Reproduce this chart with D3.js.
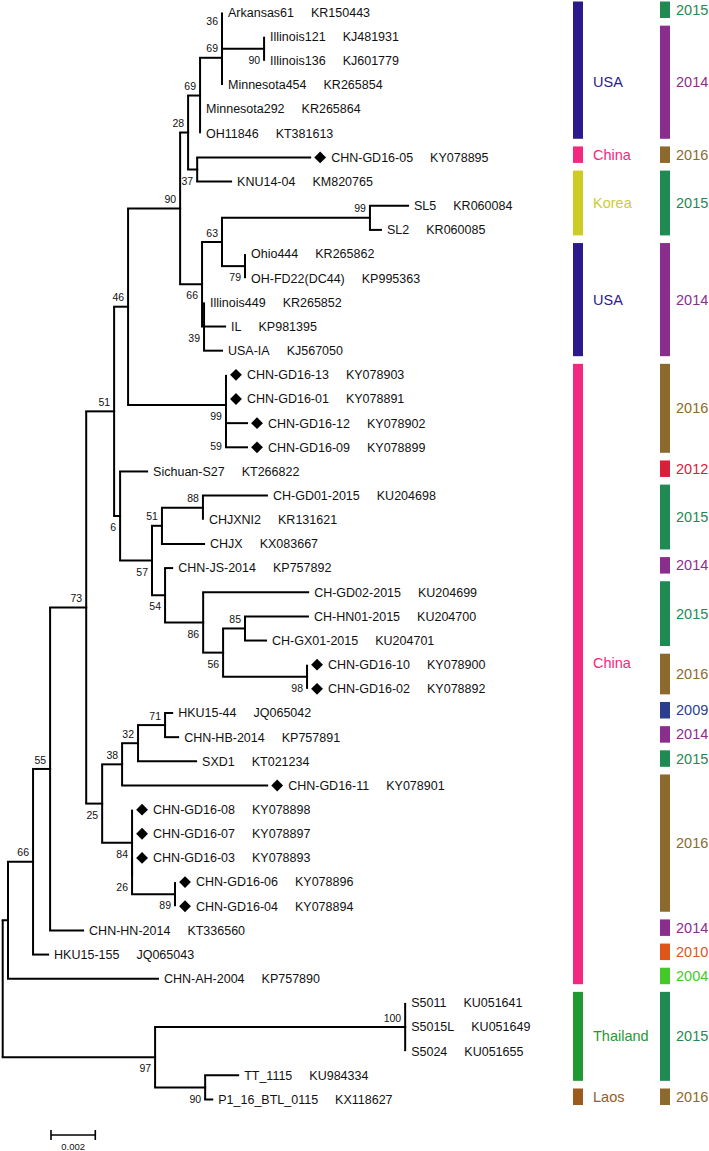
<!DOCTYPE html>
<html><head><meta charset="utf-8">
<script src="https://cdn.jsdelivr.net/npm/d3@7"></script>
<style>
body{margin:0;background:#fff}
svg{display:block}
text{font-family:Arial,"Liberation Sans",Helvetica,sans-serif}
</style>
</head><body><svg id="c" width="709" height="1151"></svg>
<script>
// [node, parent, branch length (subst./site), bootstrap]
const treeEdges = [
 ["root", "", 0, null],
 ["n8","root",0.00024,null],
 ["n66","n8",0.00113,66],
 ["n55","n66",0.00077,55],
 ["n73","n55",0.00163,73],
 ["n51","n73",0.00126,51],
 ["n46","n51",0.00063,46],
 ["n90","n46",0.00235,90],
 ["n28","n90",0.00036,28],
 ["n69b","n28",0.00054,69],
 ["n69a","n69b",0.00099,69],
 ["n36","n69a",0,36],
 ["Arkansas61","n36",0,null],
 ["n90a","n36",0.0019,90],
 ["Illinois121","n90a",0,null],
 ["Illinois136","n90a",0,null],
 ["Minnesota454","n69a",0,null],
 ["Minnesota292","n69b",0,null],
 ["OH11846","n69b",0,null],
 ["n37","n28",0.00041,37],
 ["CHN-GD16-05","n37",0.0051,null],
 ["KNU14-04","n37",0.00153,null],
 ["n66b","n90",0.00099,66],
 ["n63","n66b",0.0009,63],
 ["n99","n63",0.00668,99],
 ["SL5","n99",0.00172,null],
 ["SL2","n99",0.0005,null],
 ["n79","n63",0.00104,79],
 ["Ohio444","n79",0,null],
 ["OH-FD22(DC44)","n79",0,null],
 ["n39","n66b",0.00009,39],
 ["Illinois449","n39",0,null],
 ["IL","n39",0.00095,null],
 ["USA-IA","n39",0.00081,null],
 ["n99b","n46",0.00442,99],
 ["CHN-GD16-13","n99b",0,null],
 ["CHN-GD16-01","n99b",0,null],
 ["n59","n99b",0,59],
 ["CHN-GD16-12","n59",0.00095,null],
 ["CHN-GD16-09","n59",0.00095,null],
 ["n6","n51",0.00027,6],
 ["Sichuan-S27","n6",0.00122,null],
 ["n57","n6",0.00144,57],
 ["n51c","n57",0.00045,51],
 ["n88","n51c",0.00185,88],
 ["CH-GD01-2015","n88",0.00289,null],
 ["CHJXNI2","n88",0,null],
 ["CHJX","n51c",0.0019,null],
 ["n54","n57",0.00059,54],
 ["CHN-JS-2014","n54",0.00032,null],
 ["n86","n54",0.00172,86],
 ["CH-GD02-2015","n86",0.00474,null],
 ["n56","n86",0.0009,56],
 ["n85","n56",0.00099,85],
 ["CH-HN01-2015","n85",0.00284,null],
 ["CH-GX01-2015","n85",0.00095,null],
 ["n98","n56",0.00379,98],
 ["CHN-GD16-10","n98",0,null],
 ["CHN-GD16-02","n98",0,null],
 ["n25","n73",0.00072,25],
 ["n38","n25",0.0009,38],
 ["n32","n38",0.00072,32],
 ["n71","n32",0.00122,71],
 ["HKU15-44","n71",0.00032,null],
 ["CHN-HB-2014","n71",0.00059,null],
 ["SXD1","n32",0.00262,null],
 ["CHN-GD16-11","n38",0.00655,null],
 ["n84","n25",0.00135,84],
 ["CHN-GD16-08","n84",0,null],
 ["CHN-GD16-07","n84",0,null],
 ["n26","n84",0,26],
 ["CHN-GD16-03","n26",0,null],
 ["n89","n26",0.00194,89],
 ["CHN-GD16-06","n89",0,null],
 ["CHN-GD16-04","n89",0,null],
 ["CHN-HN-2014","n55",0.00149,null],
 ["HKU15-155","n66",0.00068,null],
 ["CHN-AH-2004","n8",0.00677,null],
 ["n97","root",0.00688,97],
 ["n100","n97",0.01129,100],
 ["S5011","n100",0,null],
 ["S5015L","n100",0,null],
 ["S5024","n100",0,null],
 ["n90c","n97",0.00226,90],
 ["TT_1115","n90c",0.00149,null],
 ["P1_16_BTL_0115","n90c",0.00032,null]
];

const accessions = {
 "Arkansas61":"KR150443","Illinois121":"KJ481931","Illinois136":"KJ601779",
 "Minnesota454":"KR265854","Minnesota292":"KR265864","OH11846":"KT381613",
 "CHN-GD16-05":"KY078895","KNU14-04":"KM820765","SL5":"KR060084","SL2":"KR060085",
 "Ohio444":"KR265862","OH-FD22(DC44)":"KP995363","Illinois449":"KR265852",
 "IL":"KP981395","USA-IA":"KJ567050","CHN-GD16-13":"KY078903","CHN-GD16-01":"KY078891",
 "CHN-GD16-12":"KY078902","CHN-GD16-09":"KY078899","Sichuan-S27":"KT266822",
 "CH-GD01-2015":"KU204698","CHJXNI2":"KR131621","CHJX":"KX083667",
 "CHN-JS-2014":"KP757892","CH-GD02-2015":"KU204699","CH-HN01-2015":"KU204700",
 "CH-GX01-2015":"KU204701","CHN-GD16-10":"KY078900","CHN-GD16-02":"KY078892",
 "HKU15-44":"JQ065042","CHN-HB-2014":"KP757891","SXD1":"KT021234",
 "CHN-GD16-11":"KY078901","CHN-GD16-08":"KY078898","CHN-GD16-07":"KY078897",
 "CHN-GD16-03":"KY078893","CHN-GD16-06":"KY078896","CHN-GD16-04":"KY078894",
 "CHN-HN-2014":"KT336560","HKU15-155":"JQ065043","CHN-AH-2004":"KP757890",
 "S5011":"KU051641","S5015L":"KU051649","S5024":"KU051655",
 "TT_1115":"KU984334","P1_16_BTL_0115":"KX118627"
};

const markedStrains = ["CHN-GD16-05","CHN-GD16-13","CHN-GD16-01","CHN-GD16-12","CHN-GD16-09",
 "CHN-GD16-10","CHN-GD16-02","CHN-GD16-11","CHN-GD16-08","CHN-GD16-07","CHN-GD16-03",
 "CHN-GD16-06","CHN-GD16-04"];

// [label, first leaf index, last leaf index]
const countryGroups = [["USA",0,5],["China",6,6],["Korea",7,9],["USA",10,14],["China",15,40],["Thailand",41,44],["Laos",45,45]];
const yearGroups = [["2015",0,0],["2014",1,5],["2016",6,6],["2015",7,9],["2014",10,14],["2016",15,18],
 ["2012",19,19],["2015",20,22],["2014",23,23],["2015",24,26],["2016",27,28],["2009",29,29],
 ["2014",30,30],["2015",31,31],["2016",32,37],["2014",38,38],["2010",39,39],["2004",40,40],
 ["2015",41,44],["2016",45,45]];

const scaleBarValue = 0.002;

const countryColors = {USA:"#2c1a8c",China:"#f5287f",Korea:"#cccc22",Thailand:"#1f9a32",Laos:"#9c5a1c"};
const countryTextColors = {USA:"#2c1a8c",China:"#f5287f",Korea:"#cccc33",Thailand:"#1f9a32",Laos:"#9c5a1c"};
const yearColors = {"2015":"#1f8a52","2014":"#8a2e8e","2016":"#8c6a2e","2012":"#d8203a","2009":"#2b3f8e","2010":"#e0561a","2004":"#44c82a"};

const svg = d3.select("#c");

const root = d3.stratify()
  .id(d => d[0])
  .parentId(d => d[1] === "" ? null : d[1])(treeEdges);

const leaves = root.leaves();
const x = d3.scaleLinear().domain([0, 0.01]).range([2.7, 224.2]);
const y = d3.scaleLinear().domain([0, leaves.length - 1]).range([12.5, 1099.5]);

root.eachBefore(n => { n.depthLen = n.parent ? n.parent.depthLen + n.data[2] : 0; n.px = x(n.depthLen); });
leaves.forEach((l, i) => { l.py = y(i); l.idx = i; });
root.eachAfter(n => { if (n.children) n.py = (n.children[0].py + n.children[n.children.length-1].py) / 2; });

const g = svg.append("g").attr("stroke","#000").attr("stroke-width",2).attr("fill","none").attr("stroke-linecap","square");
// horizontal branches
root.descendants().filter(n => n.parent).forEach(n => {
  if (n.px - n.parent.px > 0.01)
    g.append("line").attr("x1", n.parent.px).attr("x2", n.px).attr("y1", n.py).attr("y2", n.py);
});
// vertical connectors
root.descendants().filter(n => n.children).forEach(n => {
  const ys = n.children.map(c => c.py);
  g.append("line").attr("x1", n.px).attr("x2", n.px).attr("y1", d3.min(ys)).attr("y2", d3.max(ys)).attr("stroke-linecap","butt");
});

// bootstrap labels
root.descendants().filter(n => n.data[3] != null).forEach(n => {
  const isFirst = n.parent && n.parent.children[0] === n;
  svg.append("text").attr("x", n.px - 4).attr("y", isFirst ? n.py - 9 : n.py + 11.5)
    .attr("dy","0.35em").attr("text-anchor","end").attr("font-size","10.5px").attr("fill","#111")
    .text(n.data[3]);
});

// leaf labels
const diamond = d3.symbol().type(d3.symbolSquare).size(70);
leaves.forEach(l => {
  const name = l.data[0];
  const marked = markedStrains.includes(name);
  let tx = l.px + 6;
  if (marked) {
    svg.append("path").attr("d", diamond()).attr("fill","#000")
      .attr("transform", `translate(${l.px + 10},${l.py}) rotate(45)`);
    tx = l.px + 21;
  }
  const t = svg.append("text").attr("x", tx).attr("y", l.py).attr("dy","0.35em")
    .attr("font-size","12.5px").attr("fill","#111");
  t.append("tspan").text(name);
  t.append("tspan").attr("dx", 17).text(accessions[name]);
});

// colored bars
function bars(groups, bx, lx, colors, textColors, fs, nudge) {
  groups.forEach((gr, i) => {
    const top = y(gr[1]) - 11, bot = y(gr[2]) + 5.5;
    svg.append("rect").attr("x", bx).attr("y", top).attr("width", 10).attr("height", bot - top)
      .attr("fill", colors[gr[0]]);
    svg.append("text").attr("x", lx).attr("y", (top + bot) / 2 + (nudge[i] || 0)).attr("dy","0.35em")
      .attr("font-size", fs).attr("fill", textColors[gr[0]]).text(gr[0]);
  });
}
bars(countryGroups, 573, 593, countryColors, countryTextColors, "14.5px", {0: 12, 4: -11});
bars(yearGroups, 660, 676, yearColors, yearColors, "14.5px", {});

// scale bar
const sbx = 51, sby = 1135, sbw = x(scaleBarValue) - x(0);
const sb = svg.append("g").attr("stroke","#000").attr("stroke-width",1.6);
sb.append("line").attr("x1", sbx).attr("x2", sbx + sbw).attr("y1", sby).attr("y2", sby);
sb.append("line").attr("x1", sbx).attr("x2", sbx).attr("y1", sby - 5).attr("y2", sby + 5);
sb.append("line").attr("x1", sbx + sbw).attr("x2", sbx + sbw).attr("y1", sby - 5).attr("y2", sby + 5);
svg.append("text").attr("x", sbx + sbw / 2).attr("y", 1147).attr("dy","0.35em").attr("text-anchor","middle")
  .attr("font-size","9.5px").attr("fill","#111").text(scaleBarValue);
</script>
</body></html>
